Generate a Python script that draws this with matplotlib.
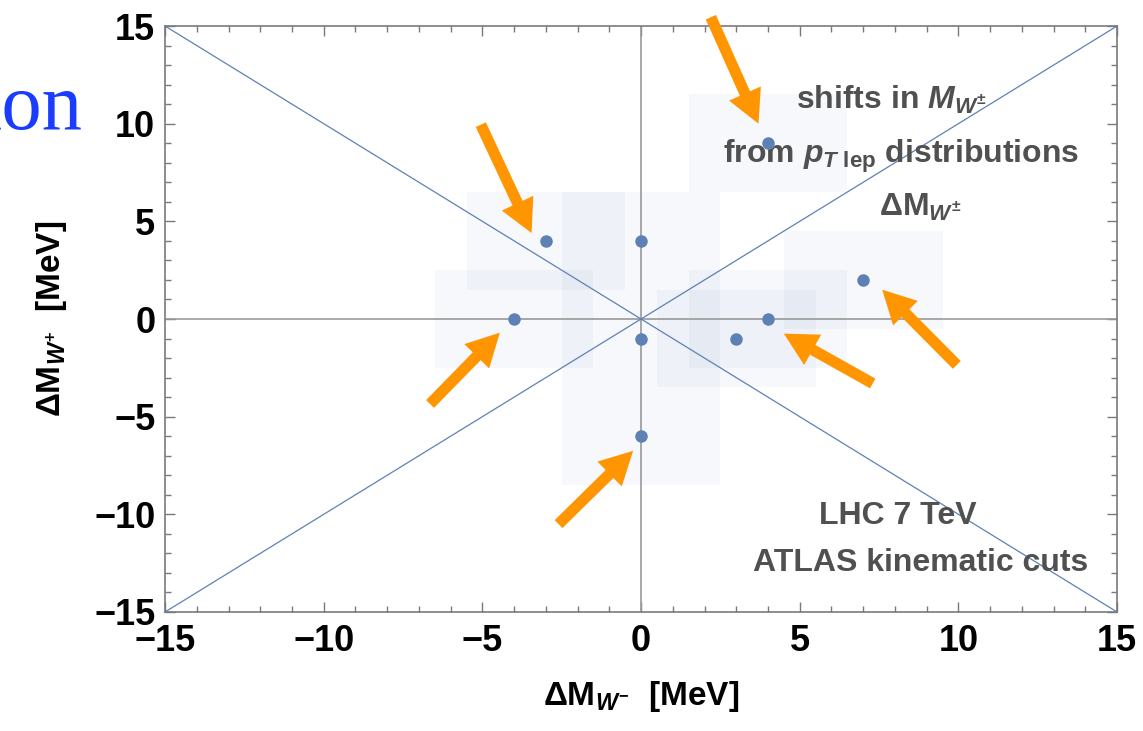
import matplotlib
matplotlib.use("Agg")
import matplotlib.pyplot as plt
from matplotlib.patches import Rectangle

# Fonts: bold sans for everything, custom mathtext so sub/superscripts match
plt.rcParams['font.family'] = ['Liberation Sans', 'DejaVu Sans']
plt.rcParams['font.weight'] = 'bold'
plt.rcParams['mathtext.fontset'] = 'custom'
plt.rcParams['mathtext.rm'] = 'Liberation Sans:bold'
plt.rcParams['mathtext.it'] = 'Liberation Sans:bold:italic'
plt.rcParams['mathtext.bf'] = 'Liberation Sans:bold'

# shifts (Delta M_W-, Delta M_W+) in MeV
dm_minus = [-3, 0, -4, 0, 3, 4, 7, 0, 4]
dm_plus = [4, 4, 0, -1, -1, 0, 2, -6, 9]
err_minus = [2.5, 2.5, 2.5, 2.5, 2.5, 2.5, 2.5, 2.5, 2.5]
err_plus = [2.5, 2.5, 2.5, 2.5, 2.5, 2.5, 2.5, 2.5, 2.5]

# orange arrows: (tail x, tail y) -> (head x, head y)
arrow_tails = [(2.2, 15.45), (-5.05, 9.95), (-6.65, -4.35), (-2.6, -10.5), (7.3, -3.3), (9.95, -2.35)]
arrow_heads = [(3.7, 10.0), (-3.45, 4.4), (-4.45, -0.7), (-0.25, -6.75), (4.5, -0.75), (7.6, 1.5)]

ticks = [-15, -10, -5, 0, 5, 10, 15]

blue = '#5e81b5'
orange = '#ff9500'
gray_txt = '#505050'
frame = '#7a7a7a'

fig = plt.figure(figsize=(11.43, 7.31), dpi=100)
ax = fig.add_axes([0.1444, 0.1628, 0.8329, 0.8016])

# shaded uncertainty boxes
for x, y, ex, ey in zip(dm_minus, dm_plus, err_minus, err_plus):
    ax.add_patch(Rectangle((x - ex, y - ey), 2 * ex, 2 * ey,
                           facecolor=blue, alpha=0.05, edgecolor='none', zorder=1))

# reference lines
ax.axhline(0, color='#999999', lw=1.2, zorder=2)
ax.axvline(0, color='#999999', lw=1.2, zorder=2)
ax.plot([-15, 15], [-15, 15], color=blue, lw=0.9, zorder=2)
ax.plot([-15, 15], [15, -15], color=blue, lw=0.9, zorder=2)

ax.plot(dm_minus, dm_plus, 'o', color=blue, ms=9, mec='none', zorder=4)

for (tx, ty), (hx, hy) in zip(arrow_tails, arrow_heads):
    ax.annotate('', xy=(hx, hy), xytext=(tx, ty), annotation_clip=False,
                arrowprops=dict(arrowstyle='simple,head_length=0.95,head_width=1.0,tail_width=0.32',
                                mutation_scale=25, color=orange, lw=0,
                                shrinkA=0, shrinkB=0), zorder=5)

# labels inside the plot
note = dict(ha='center', va='center', fontsize=23, color=gray_txt, fontweight='bold')
ax.text(7.9, 11.2, r'shifts in $M_{W^{\pm}}$', **note)
ax.text(8.2, 8.3, r'from $p_{T\ \mathrm{lep}}$ distributions', **note)
ax.text(8.8, 5.7, r'$\Delta\mathrm{M}_{W^{\pm}}$', **note)
ax.text(8.1, -10.1, 'LHC 7 TeV', **note)
ax.text(8.8, -12.5, 'ATLAS kinematic cuts', **note)

ax.set_xlim(-15, 15)
ax.set_ylim(-15, 15)
labels = ['\u2212' + str(-t) if t < 0 else str(t) for t in ticks]
ax.set_xticks(ticks)
ax.set_yticks(ticks)
ax.set_xticklabels(labels)
ax.set_yticklabels(labels)
ax.set_xticks(range(-15, 16), minor=True)
ax.set_yticks(range(-15, 16), minor=True)
ax.tick_params(which='both', direction='in', top=True, right=True, color=frame, width=1)
ax.tick_params(which='major', length=7, labelsize=26, pad=7)
ax.tick_params(axis='x', which='major', pad=9)
ax.tick_params(which='minor', length=4)
for s in ax.spines.values():
    s.set_color(frame)
    s.set_linewidth(1.2)

ax.set_xlabel(r'$\Delta\mathrm{M}_{W^{-}}$  [MeV]', fontsize=24, fontweight='bold', labelpad=14)
ax.set_ylabel(r'$\Delta\mathrm{M}_{W^{+}}$  [MeV]', fontsize=24, fontweight='bold', labelpad=18)

# leftover slide text at the left edge
fig.text(-0.018, 0.823, 'ion', fontsize=58, color='#1a3cff', family='Liberation Serif',
         fontweight='normal', va='baseline', ha='left')

fig.savefig('out.png', dpi=100)
